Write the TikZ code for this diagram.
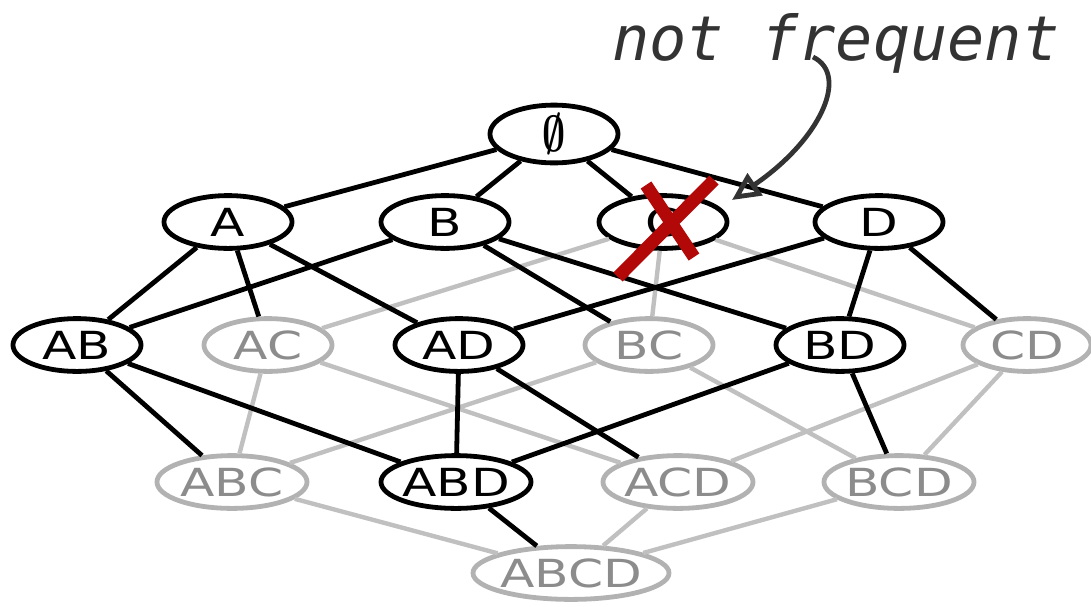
\documentclass[tikz,border=0pt]{standalone}
\usepackage{fontspec}
\usepackage{graphicx}
\setmainfont{DejaVu Sans}[FakeStretch=1.3]
\newfontfamily\handfont{DejaVu Sans Mono}
\usetikzlibrary{shapes.geometric,arrows.meta}
\definecolor{lightedge}{RGB}{192,192,192}
\definecolor{greyset}{RGB}{178,178,178}
\definecolor{greytext}{RGB}{140,140,140}
\definecolor{crossred}{RGB}{178,8,8}
\definecolor{notecol}{RGB}{51,51,51}

\begin{document}
\begin{tikzpicture}[x=0.025cm,y=-0.025cm,
    set/.style={ellipse,draw=black,fill=white,line width=1.2mm,inner sep=0pt,inner xsep=-2mm,
                minimum width=3.2cm,minimum height=1.32cm,font=\fontsize{27.5}{30}\selectfont},
    wide/.style={minimum width=3.75cm},
    wider/.style={minimum width=4.9cm},
    pruned/.style={draw=greyset,text=greytext},
    freq/.style={line width=1.2mm,black},
    infreq/.style={line width=1.1mm,lightedge}]

    \useasboundingbox (0,0) rectangle (1091,606);

    \node[set]               (e)    at (554,134) {\scalebox{1.15}[1.45]{\boldmath$\emptyset$}};
    \node[set]               (A)    at (228,222) {A};
    \node[set]               (B)    at (445,222) {B};
    \node[set]               (C)    at (663,222) {C};
    \node[set]               (D)    at (879,222) {D};
    \node[set]               (AB)   at (77,345)  {AB};
    \node[set,pruned]        (AC)   at (268,345) {AC};
    \node[set]               (AD)   at (459,345) {AD};
    \node[set,pruned]        (BC)   at (649,345) {BC};
    \node[set]               (BD)   at (840,345) {BD};
    \node[set,pruned]        (CD)   at (1027,345) {CD};
    \node[set,wide,pruned]   (ABC)  at (232,482) {ABC};
    \node[set,wide]          (ABD)  at (456,482) {ABD};
    \node[set,wide,pruned]   (ACD)  at (678,482) {ACD};
    \node[set,wide,pruned]   (BCD)  at (899,482) {BCD};
    \node[set,wider,pruned]  (ABCD) at (571,573) {ABCD};

  \path[infreq] (C)    edge (AC)
                (C)    edge (BC)
                (C)    edge (CD)
                (AC)   edge (ABC)
                (AC)   edge (ACD)
                (BC)   edge (ABC)
                (BC)   edge (BCD)
                (CD)   edge (ACD)
                (CD)   edge (BCD)
                (ABC)  edge (ABCD)
                (ACD)  edge (ABCD)
                (BCD)  edge (ABCD)
                ;

  \path[freq]   (e)    edge (A)
                (e)    edge (B)
                (e)    edge (C)
                (e)    edge (D)
                (A)    edge (AB)
                (A)    edge (AC)
                (A)    edge (AD)
                (B)    edge (AB)
                (B)    edge (BC)
                (B)    edge (BD)
                (D)    edge (AD)
                (D)    edge (BD)
                (D)    edge (CD)
                (AB)   edge (ABC)
                (AB)   edge (ABD)
                (AD)   edge (ABD)
                (AD)   edge (ACD)
                (BD)   edge (ABD)
                (BD)   edge (BCD)
                (ABD)  edge (ABCD)
                ;

    % crossed out
    \draw[crossred,line width=3.2mm] (618,277) -- (714,180)
                                     (646,185) -- (694,257);

    \node[font=\handfont\itshape\fontsize{44}{48}\selectfont,text=notecol,
          anchor=base west,inner sep=0pt] (note) at (612,60) {not frequent};
    \coordinate (tail) at (813,57);
    \coordinate (tip)  at (732,200);
    \draw[notecol,line width=1.2mm,-{Triangle[open,length=7mm,width=6.5mm]}]
        (tail) .. controls (850,75) and (820,140) .. (tip);
\end{tikzpicture}
\end{document}
